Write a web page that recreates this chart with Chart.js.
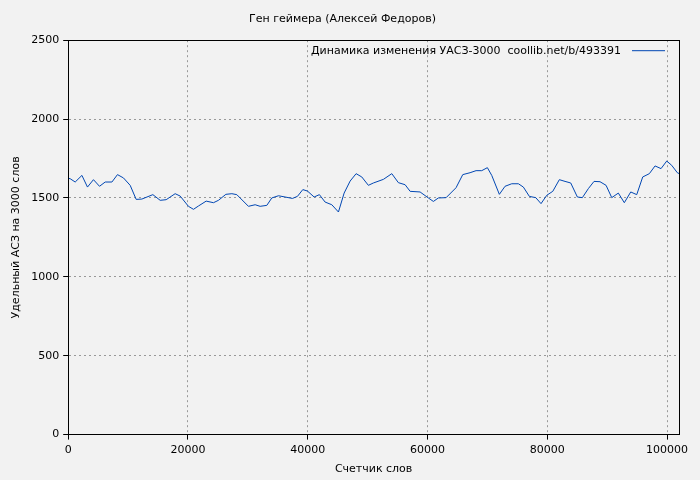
<!DOCTYPE html>
<html><head><meta charset="utf-8">
<script src="https://cdn.jsdelivr.net/npm/chart.js@4"></script>
<style>body{margin:0;background:#f2f2f2}#w{width:700px;height:480px}</style>
</head><body><div id="w"><canvas id="c"></canvas></div>
<script>
var words = [0,330,1170,2290,3220,4220,5230,6180,7300,8230,9230,10350,11350,12300,14140,15360,16360,17860,18700,20080,20920,21750,23040,24260,25090,26330,27330,28160,30100,31220,32050,33170,34000,35110,36230,37450,38280,39180,39950,41070,41950,42900,44020,45130,46080,47080,48080,49030,50130,50970,52640,54040,55140,56260,57100,58760,60150,60980,61820,63110,64770,65890,67110,68110,69060,70000,70730,72000,72950,74070,75180,76010,77010,78080,78960,79920,80920,82020,82970,83920,85030,85860,86860,87810,88810,89820,90770,91870,92870,93940,94940,95940,97050,98000,99000,99950,100780,101720,102000]
var uasz = [1625,1622,1601,1643,1569,1616,1574,1601,1601,1648,1627,1580,1491,1493,1521,1485,1489,1527,1512,1447,1428,1449,1480,1470,1485,1523,1527,1521,1447,1457,1447,1453,1500,1514,1506,1497,1510,1553,1544,1506,1521,1474,1457,1411,1531,1607,1654,1633,1580,1595,1618,1654,1597,1584,1542,1538,1500,1478,1500,1502,1565,1648,1660,1673,1673,1692,1643,1523,1574,1590,1590,1569,1510,1502,1464,1517,1542,1616,1605,1595,1506,1502,1559,1605,1603,1580,1502,1531,1470,1538,1521,1633,1654,1703,1686,1734,1707,1660,1655]
var legendText = 'Динамика изменения УАСЗ-3000  coollib.net/b/493391'
var font = 'DejaVu Sans'
Chart.defaults.font.family = font
Chart.defaults.font.size = 11
Chart.defaults.color = '#000'

var extras = {
  id: 'extras',
  afterDraw: function (chart) {
    var ctx = chart.ctx, a = chart.chartArea
    ctx.save()
    ctx.strokeStyle = '#000'; ctx.lineWidth = 1
    ctx.strokeRect(Math.round(a.left) + 0.5, Math.round(a.top) + 0.5, Math.round(a.right - a.left), Math.round(a.bottom - a.top))
    ctx.font = '11px ' + font
    ctx.fillStyle = '#000'
    ctx.textAlign = 'right'; ctx.textBaseline = 'middle'
    ctx.fillText(legendText, a.right - 58, a.top + 11)
    ctx.strokeStyle = '#0047b3'
    ctx.beginPath(); ctx.moveTo(a.right - 47, a.top + 10.5); ctx.lineTo(a.right - 14, a.top + 10.5); ctx.stroke()
    ctx.restore()
  }
}

new Chart(document.getElementById('c'), {
  type: 'line',
  data: {
    datasets: [{
      data: words.map(function (w, i) { return { x: w, y: uasz[i] } }),
      borderColor: '#0047b3', borderWidth: 1, pointRadius: 0, tension: 0, fill: false
    }]
  },
  options: {
    responsive: true, maintainAspectRatio: false, animation: false,
    layout: { padding: { top: 5, right: 21, left: 6, bottom: 0 } },
    plugins: {
      legend: { display: false },
      tooltip: { enabled: false },
      title: { display: true, text: 'Ген геймера (Алексей Федоров)', font: { size: 11, weight: 'normal' }, padding: { top: 8, bottom: 14 } }
    },
    scales: {
      x: {
        type: 'linear', min: 0, max: 102000,
        afterBuildTicks: function (s) { s.ticks = [0, 20000, 40000, 60000, 80000, 100000].map(function (v) { return { value: v } }) },
        ticks: { maxRotation: 0, padding: 4, callback: function (v) { return v } },
        grid: { color: '#999', drawTicks: true, tickLength: 5, tickColor: '#000' },
        border: { dash: [2, 3], color: '#000' },
        title: { display: true, text: 'Счетчик слов', padding: { top: 2 } }
      },
      y: {
        min: 0, max: 2500,
        ticks: { stepSize: 500, padding: 4, callback: function (v) { return v } },
        grid: { color: '#999', tickLength: 5, tickColor: '#000' },
        border: { dash: [2, 3], color: '#000' },
        title: { display: true, text: 'Удельный АСЗ на 3000 слов', padding: { bottom: 4 } }
      }
    }
  },
  plugins: [extras]
})
</script></body></html>
